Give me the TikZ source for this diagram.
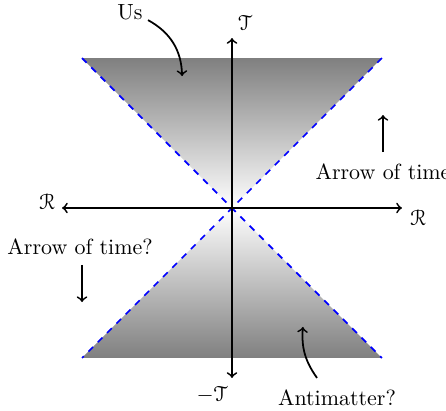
\documentclass[tikz,border=0pt]{standalone}
\usepackage{amsmath,amssymb}
\usepackage[mathcal]{eucal}
\usepackage{tikz}

\begin{document}
\begin{tikzpicture}[x=2.4cm,y=2.4cm,>=to]
\useasboundingbox (-1.547,-1.347) rectangle (1.427,1.387);
\tikzset{cone/.style={blue, thick, dashed}, axis/.style={->, thick}}

% Light cone shading
\coordinate (O) at (0,0);
\coordinate (TL) at (-1,1);
\coordinate (TR) at (1,1);
\coordinate (BL) at (-1,-1);
\coordinate (BR) at (1,-1);
\shade[top color=gray, bottom color=white] (O) -- (TL) -- (TR) -- cycle;
\shade[top color=white, bottom color=gray] (O) -- (BL) -- (BR) -- cycle;
\draw[cone] (TL) -- (BR);
\draw[cone] (TR) -- (BL);

% Axes
\coordinate (Rleft) at (-1.133,0);
\coordinate (Rright) at (1.133,0);
\coordinate (Ttop) at (0,1.133);
\coordinate (Tbot) at (0,-1.133);
\draw[axis] (O) -- (Rleft);
\draw[axis] (O) -- (Rright);
\draw[axis] (O) -- (Ttop);
\draw[axis] (O) -- (Tbot);
\node (rl) at (-1.233,0.04) {$\mathcal{R}$};
\node (rr) at (1.24,-0.067) {$\mathcal{R}$};
\node (tt) at (0.087,1.233) {$\mathcal{T}$};
\node (tb) at (-0.133,-1.247) {$-\mathcal{T}$};

% Us
\node (us) at (-0.68,1.307) {Us};
\coordinate (usfrom) at (-0.56,1.253);
\coordinate (usto) at (-0.333,0.88);
\draw[->, thick] (usfrom) to[bend left] (usto);

% Arrow of time (future)
\node (aot) at (1.007,0.24) {Arrow of time};
\coordinate (aotfrom) at (1.007,0.373);
\coordinate (aotto) at (1.007,0.62);
\draw[->, thick] (aotfrom) -- (aotto);

% Arrow of time (past)
\node (aotq) at (-1.013,-0.26) {Arrow of time?};
\coordinate (aotqfrom) at (-1.0,-0.38);
\coordinate (aotqto) at (-1.0,-0.627);
\draw[->, thick] (aotqfrom) -- (aotqto);

% Antimatter
\node (anti) at (0.7,-1.267) {Antimatter?};
\coordinate (antifrom) at (0.567,-1.133);
\coordinate (antito) at (0.473,-0.793);
\draw[->, thick] (antifrom) to[bend left=20] (antito);

\end{tikzpicture}
\end{document}
